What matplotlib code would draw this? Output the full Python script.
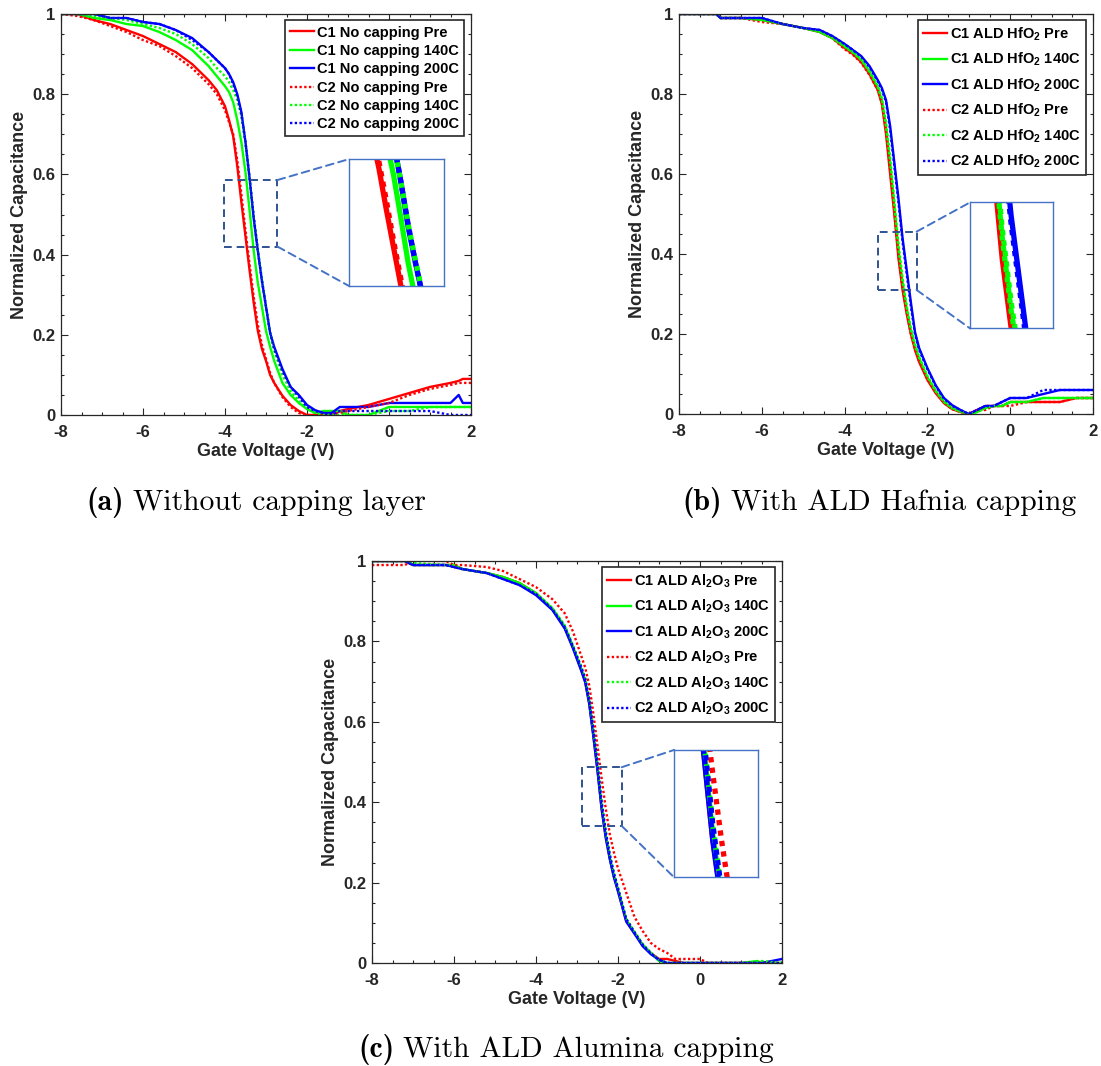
import matplotlib
matplotlib.use('Agg')
import matplotlib.pyplot as plt
from matplotlib.patches import Rectangle, ConnectionPatch
from matplotlib.ticker import MultipleLocator, FixedLocator, FixedFormatter

plt.rcParams['font.family'] = ['Liberation Sans', 'DejaVu Sans']
plt.rcParams['font.weight'] = 'bold'
plt.rcParams['axes.labelweight'] = 'bold'
plt.rcParams['mathtext.fontset'] = 'custom'
plt.rcParams['mathtext.rm'] = 'Liberation Sans:bold'
plt.rcParams['mathtext.it'] = 'Liberation Sans:bold'
plt.rcParams['mathtext.bf'] = 'Liberation Sans:bold'
plt.rcParams['axes.unicode_minus'] = False

##########################################################
# Data
##########################################################
# (a) no capping layer
volt_a = [-8.0, -7.6, -7.2, -6.8, -6.4, -6.0, -5.6, -5.2, -4.8, -4.4,
          -4.2, -4.0, -3.9, -3.8, -3.7, -3.6, -3.5, -3.4, -3.3, -3.2,
          -3.1, -3.0, -2.9, -2.8, -2.6, -2.4, -2.2, -2.0, -1.8, -1.6,
          -1.4, -1.2, -1.0, -0.5, 0.0, 0.5, 1.0, 1.5, 1.7, 1.8, 2.0]
c1_pre_a = [1.0, 1.0, 0.985, 0.975, 0.96, 0.945, 0.925, 0.905, 0.875, 0.835,
            0.81, 0.77, 0.735, 0.695, 0.62, 0.53, 0.445, 0.36, 0.28, 0.21,
            0.165, 0.135, 0.10, 0.08, 0.048, 0.025, 0.01, 0.0, 0.0, 0.0,
            0.0, 0.01, 0.015, 0.025, 0.04, 0.055, 0.07, 0.08, 0.085, 0.09, 0.09]
c1_140_a = [1.0, 1.0, 0.99, 0.985, 0.975, 0.97, 0.955, 0.935, 0.91, 0.87,
            0.845, 0.82, 0.805, 0.78, 0.735, 0.68, 0.605, 0.51, 0.41, 0.33,
            0.27, 0.21, 0.17, 0.135, 0.08, 0.05, 0.03, 0.015, 0.005, 0.01,
            0.01, 0.01, 0.0, 0.0, 0.02, 0.02, 0.02, 0.02, 0.02, 0.02, 0.02]
c1_200_a = [1.0, 1.0, 1.0, 0.99, 0.99, 0.98, 0.975, 0.96, 0.94, 0.905,
            0.885, 0.865, 0.85, 0.83, 0.80, 0.755, 0.68, 0.59, 0.49, 0.41,
            0.335, 0.27, 0.205, 0.17, 0.115, 0.07, 0.05, 0.025, 0.012, 0.005,
            0.005, 0.02, 0.02, 0.02, 0.03, 0.03, 0.03, 0.03, 0.05, 0.03, 0.03]
c2_pre_a = [1.0, 0.995, 0.985, 0.97, 0.955, 0.935, 0.92, 0.895, 0.865, 0.825,
            0.80, 0.76, 0.73, 0.70, 0.635, 0.55, 0.46, 0.375, 0.295, 0.225,
            0.175, 0.14, 0.105, 0.08, 0.045, 0.02, 0.005, 0.0, 0.0, 0.0,
            0.0, 0.005, 0.01, 0.02, 0.03, 0.05, 0.065, 0.075, 0.08, 0.08, 0.08]
c2_140_a = [1.0, 1.0, 0.995, 0.99, 0.985, 0.975, 0.965, 0.95, 0.925, 0.89,
            0.865, 0.845, 0.83, 0.81, 0.785, 0.745, 0.675, 0.59, 0.495, 0.415,
            0.34, 0.27, 0.205, 0.16, 0.10, 0.06, 0.035, 0.015, 0.005, 0.0,
            0.0, 0.0, 0.0, 0.0, 0.01, 0.01, 0.02, 0.02, 0.02, 0.02, 0.02]
c2_200_a = [1.0, 1.0, 1.0, 0.99, 0.99, 0.98, 0.975, 0.96, 0.935, 0.905,
            0.885, 0.865, 0.85, 0.825, 0.795, 0.75, 0.68, 0.59, 0.495, 0.41,
            0.335, 0.27, 0.205, 0.165, 0.11, 0.07, 0.045, 0.02, 0.01, 0.005,
            0.0, 0.01, 0.01, 0.01, 0.01, 0.01, 0.01, 0.0, 0.0, 0.0, 0.0]

# (b) ALD HfO2 capping
volt_b = [-8.0, -7.1, -7.0, -6.5, -6.0, -5.5, -5.0, -4.6, -4.3, -4.0,
          -3.8, -3.6, -3.4, -3.2, -3.1, -3.0, -2.9, -2.8, -2.7, -2.6,
          -2.5, -2.4, -2.3, -2.2, -2.0, -1.8, -1.6, -1.4, -1.2, -1.0,
          -0.8, -0.6, -0.4, -0.2, 0.0, 0.4, 0.8, 1.2, 1.6, 2.0]
c1_pre_b = [1.0, 1.0, 0.99, 0.99, 0.985, 0.975, 0.965, 0.955, 0.94, 0.915,
            0.90, 0.88, 0.85, 0.81, 0.775, 0.70, 0.60, 0.50, 0.39, 0.31,
            0.25, 0.20, 0.16, 0.13, 0.085, 0.052, 0.027, 0.012, 0.005, 0.0,
            0.01, 0.02, 0.02, 0.02, 0.03, 0.03, 0.03, 0.03, 0.04, 0.04]
c1_140_b = [1.0, 1.0, 0.99, 0.99, 0.985, 0.975, 0.965, 0.955, 0.94, 0.918,
            0.903, 0.885, 0.855, 0.817, 0.785, 0.72, 0.63, 0.525, 0.415, 0.33,
            0.265, 0.21, 0.17, 0.14, 0.092, 0.057, 0.03, 0.014, 0.006, 0.0,
            0.005, 0.015, 0.02, 0.02, 0.03, 0.03, 0.04, 0.04, 0.04, 0.04]
c1_200_b = [1.0, 1.0, 0.99, 0.99, 0.99, 0.975, 0.965, 0.96, 0.945, 0.925,
            0.91, 0.895, 0.87, 0.835, 0.815, 0.785, 0.72, 0.63, 0.54, 0.44,
            0.36, 0.28, 0.205, 0.165, 0.115, 0.072, 0.04, 0.022, 0.01, 0.0,
            0.01, 0.02, 0.02, 0.03, 0.04, 0.04, 0.05, 0.06, 0.06, 0.06]
c2_pre_b = [1.0, 1.0, 0.99, 0.99, 0.98, 0.975, 0.965, 0.955, 0.94, 0.912,
            0.898, 0.878, 0.848, 0.81, 0.778, 0.71, 0.61, 0.51, 0.40, 0.315,
            0.255, 0.20, 0.162, 0.132, 0.087, 0.054, 0.028, 0.012, 0.005, 0.0,
            0.01, 0.01, 0.02, 0.02, 0.02, 0.03, 0.03, 0.03, 0.04, 0.04]
c2_140_b = [1.0, 1.0, 0.99, 0.99, 0.985, 0.975, 0.965, 0.955, 0.94, 0.92,
            0.905, 0.887, 0.858, 0.82, 0.79, 0.73, 0.64, 0.535, 0.425, 0.34,
            0.27, 0.215, 0.175, 0.143, 0.095, 0.058, 0.031, 0.015, 0.006, 0.0,
            0.005, 0.015, 0.02, 0.02, 0.03, 0.03, 0.04, 0.04, 0.04, 0.04]
c2_200_b = [1.0, 1.0, 0.99, 0.99, 0.99, 0.975, 0.965, 0.96, 0.945, 0.925,
            0.91, 0.893, 0.867, 0.832, 0.81, 0.78, 0.71, 0.62, 0.53, 0.43,
            0.35, 0.27, 0.20, 0.16, 0.112, 0.07, 0.038, 0.02, 0.01, 0.0,
            0.01, 0.02, 0.02, 0.03, 0.04, 0.04, 0.06, 0.06, 0.06, 0.06]

# (c) ALD Al2O3 capping
volt_c = [-8.0, -7.2, -7.0, -6.2, -6.0, -5.8, -5.2, -4.8, -4.4, -4.0,
          -3.6, -3.3, -3.1, -2.9, -2.8, -2.7, -2.6, -2.5, -2.4, -2.3,
          -2.2, -2.1, -2.0, -1.8, -1.6, -1.4, -1.2, -1.0, -0.8, -0.6,
          -0.4, -0.2, 0.0, 0.2, 1.0, 1.4, 1.5, 2.0]
c1_pre_c = [1.0, 1.0, 0.99, 0.99, 0.99, 0.98, 0.97, 0.96, 0.945, 0.92,
            0.88, 0.835, 0.785, 0.73, 0.70, 0.645, 0.565, 0.48, 0.385, 0.315,
            0.26, 0.215, 0.18, 0.105, 0.075, 0.045, 0.025, 0.01, 0.01, 0.005,
            0.0, 0.0, 0.0, 0.0, 0.0, 0.0, 0.0, 0.0]
c1_140_c = [1.0, 1.0, 0.99, 0.99, 0.99, 0.98, 0.97, 0.96, 0.945, 0.92,
            0.882, 0.838, 0.788, 0.733, 0.703, 0.648, 0.57, 0.485, 0.39, 0.318,
            0.262, 0.217, 0.182, 0.107, 0.076, 0.046, 0.025, 0.005, 0.0, 0.0,
            0.0, 0.0, 0.0, 0.0, 0.0, 0.005, 0.0, 0.0]
c1_200_c = [1.0, 1.0, 0.99, 0.99, 0.985, 0.98, 0.97, 0.955, 0.94, 0.915,
            0.878, 0.832, 0.783, 0.728, 0.698, 0.643, 0.563, 0.478, 0.383, 0.312,
            0.258, 0.213, 0.178, 0.103, 0.073, 0.042, 0.022, 0.008, 0.0, 0.0,
            0.0, 0.0, 0.0, 0.0, 0.0, 0.0, 0.0, 0.01]
c2_pre_c = [0.99, 0.99, 1.0, 1.0, 0.99, 0.99, 0.985, 0.975, 0.955, 0.935,
            0.905, 0.87, 0.825, 0.765, 0.735, 0.69, 0.62, 0.54, 0.46, 0.385,
            0.32, 0.275, 0.235, 0.175, 0.115, 0.08, 0.05, 0.035, 0.025, 0.01,
            0.01, 0.01, 0.01, 0.0, 0.0, 0.0, 0.0, 0.0]
c2_140_c = [1.0, 1.0, 0.995, 0.99, 0.99, 0.98, 0.97, 0.96, 0.945, 0.92,
            0.883, 0.84, 0.79, 0.738, 0.708, 0.655, 0.578, 0.495, 0.40, 0.326,
            0.268, 0.222, 0.186, 0.11, 0.078, 0.047, 0.026, 0.008, 0.0, 0.0,
            0.0, 0.0, 0.0, 0.0, 0.0, 0.0, 0.005, 0.0]
c2_200_c = [1.0, 1.0, 0.99, 0.99, 0.985, 0.98, 0.97, 0.955, 0.94, 0.918,
            0.88, 0.836, 0.788, 0.737, 0.707, 0.655, 0.58, 0.497, 0.402, 0.328,
            0.27, 0.224, 0.187, 0.11, 0.077, 0.046, 0.024, 0.008, 0.0, 0.0,
            0.0, 0.0, 0.0, 0.0, 0.0, 0.0, 0.0, 0.0]

labels_a = ['C1 No capping Pre', 'C1 No capping 140C', 'C1 No capping 200C',
            'C2 No capping Pre', 'C2 No capping 140C', 'C2 No capping 200C']
labels_b = ['C1 ALD HfO$_2$ Pre', 'C1 ALD HfO$_2$ 140C', 'C1 ALD HfO$_2$ 200C',
            'C2 ALD HfO$_2$ Pre', 'C2 ALD HfO$_2$ 140C', 'C2 ALD HfO$_2$ 200C']
labels_c = ['C1 ALD Al$_2$O$_3$ Pre', 'C1 ALD Al$_2$O$_3$ 140C', 'C1 ALD Al$_2$O$_3$ 200C',
            'C2 ALD Al$_2$O$_3$ Pre', 'C2 ALD Al$_2$O$_3$ 140C', 'C2 ALD Al$_2$O$_3$ 200C']

# dashed zoom boxes drawn on the main axes: (v_left, v_right, c_bottom, c_top)
box_a = (-4.02, -2.72, 0.42, 0.586)
box_b = (-3.19, -2.26, 0.31, 0.456)
box_c = (-2.89, -1.91, 0.341, 0.487)
# what the enlarged insets actually show (same order)
view_a = (-4.11, -2.81, 0.36, 0.64)
view_b = (-3.06, -2.13, 0.31, 0.456)
view_c = (-2.85, -1.87, 0.341, 0.487)

x_ticks = [-8, -6, -4, -2, 0, 2]
y_ticks = [0, 0.2, 0.4, 0.6, 0.8, 1.0]
y_tick_labels = ['0', '0.2', '0.4', '0.6', '0.8', '1']

line_colors = ['#FF0000', '#00FF00', '#0000FF', '#FF0000', '#00FF00', '#0000FF']
line_styles = ['-', '-', '-', (0, (1, 1)), (0, (1, 1)), (0, (1, 1))]
ink = '#262626'

W, H = 1101, 1066
fig = plt.figure(figsize=(W / 100, H / 100), dpi=100)


def draw_panel(px_box, volts, series, labels, box, view, inset_rect, row_gap):
    # px_box = (left, top, right, bottom) of the axes in pixels
    l, t, r, b = px_box
    ax = fig.add_axes([l / W, 1 - b / H, (r - l) / W, (b - t) / H])
    for vals, col, ls, lab in zip(series, line_colors, line_styles, labels):
        ax.plot(volts, vals, color=col, linestyle=ls, linewidth=1.7, label=lab)
    ax.set_xlim(-8, 2)
    ax.set_ylim(0, 1)
    ax.xaxis.set_major_locator(FixedLocator(x_ticks))
    ax.xaxis.set_minor_locator(MultipleLocator(0.5))
    ax.yaxis.set_major_locator(FixedLocator(y_ticks))
    ax.yaxis.set_major_formatter(FixedFormatter(y_tick_labels))
    ax.yaxis.set_minor_locator(MultipleLocator(0.05))
    ax.tick_params(which='both', direction='in', top=True, right=True,
                   color=ink, labelcolor=ink, width=0.8)
    ax.tick_params(which='major', length=5, labelsize=12)
    ax.tick_params(which='minor', length=2.5)
    ax.tick_params(axis='x', pad=7)
    ax.tick_params(axis='y', pad=4)
    for sp in ax.spines.values():
        sp.set_color(ink)
        sp.set_linewidth(0.9)
    ax.set_xlabel('Gate Voltage (V)', fontsize=13, color=ink, labelpad=2)
    ax.set_ylabel('Normalized Capacitance', fontsize=13, color=ink, labelpad=3)

    leg = ax.legend(loc='upper right', bbox_to_anchor=(0.983, 0.984), borderaxespad=0,
                    fontsize=10.5, frameon=True, fancybox=False, framealpha=1,
                    edgecolor=ink, handlelength=1.65, handletextpad=0.2,
                    labelspacing=row_gap, borderpad=0.35)
    leg.get_frame().set_linewidth(1.2)
    for txt in leg.get_texts():
        txt.set_color('black')

    # dashed zoom box and the inset showing it enlarged
    x0, x1, y0, y1 = box
    ax.add_patch(Rectangle((x0, y0), x1 - x0, y1 - y0, fill=False,
                           edgecolor='#2F528F', linewidth=1.4,
                           linestyle=(0, (4, 2.5)), zorder=5))
    axin = ax.inset_axes(inset_rect)
    for vals, col, ls in zip(series, line_colors, line_styles):
        axin.plot(volts, vals, color=col, linestyle=ls, linewidth=3.8)
    axin.set_xlim(view[0], view[1])
    axin.set_ylim(view[2], view[3])
    axin.set_xticks([])
    axin.set_yticks([])
    for sp in axin.spines.values():
        sp.set_color('#4472C4')
        sp.set_linewidth(1.0)
    for ya, yb in [(y1, 1), (y0, 0)]:
        con = ConnectionPatch(xyA=(x1, ya), coordsA=ax.transData,
                              xyB=(0, yb), coordsB=axin.transAxes,
                              color='#4472C4', linewidth=1.4,
                              linestyle=(0, (4, 2.5)), zorder=5)
        ax.add_artist(con)
    return ax


def draw_caption(cx, base_y, letter, text):
    renderer = fig.canvas.get_renderer()
    t1 = fig.text(0, 1 - base_y / H, letter, fontfamily='cmb10', fontweight='normal',
                  fontsize=21.3, va='baseline')
    t2 = fig.text(0, 1 - base_y / H, text, fontfamily='cmr10', fontweight='normal',
                  fontsize=21.3, va='baseline')
    w1 = t1.get_window_extent(renderer).width
    w2 = t2.get_window_extent(renderer).width
    gap = 9
    start = cx - (w1 + gap + w2) / 2
    t1.set_x(start / W)
    t2.set_x((start + w1 + gap) / W)


draw_panel((61, 14, 471, 415), volt_a,
           [c1_pre_a, c1_140_a, c1_200_a, c2_pre_a, c2_140_a, c2_200_a],
           labels_a, box_a, view_a, [0.702, 0.322, 0.2325, 0.316], 0.3)
draw_panel((679, 14, 1093, 414), volt_b,
           [c1_pre_b, c1_140_b, c1_200_b, c2_pre_b, c2_140_b, c2_200_b],
           labels_b, box_b, view_b, [0.703, 0.214, 0.201, 0.315], 0.55)
draw_panel((372, 561, 782, 963), volt_c,
           [c1_pre_c, c1_140_c, c1_200_c, c2_pre_c, c2_140_c, c2_200_c],
           labels_c, box_c, view_c, [0.737, 0.213, 0.205, 0.317], 0.55)

draw_caption(256.5, 510, '(a)', 'Without capping layer')
draw_caption(879.5, 510, '(b)', 'With ALD Hafnia capping')
draw_caption(566, 1057, '(c)', 'With ALD Alumina capping')

fig.savefig('out.png', dpi=100)
